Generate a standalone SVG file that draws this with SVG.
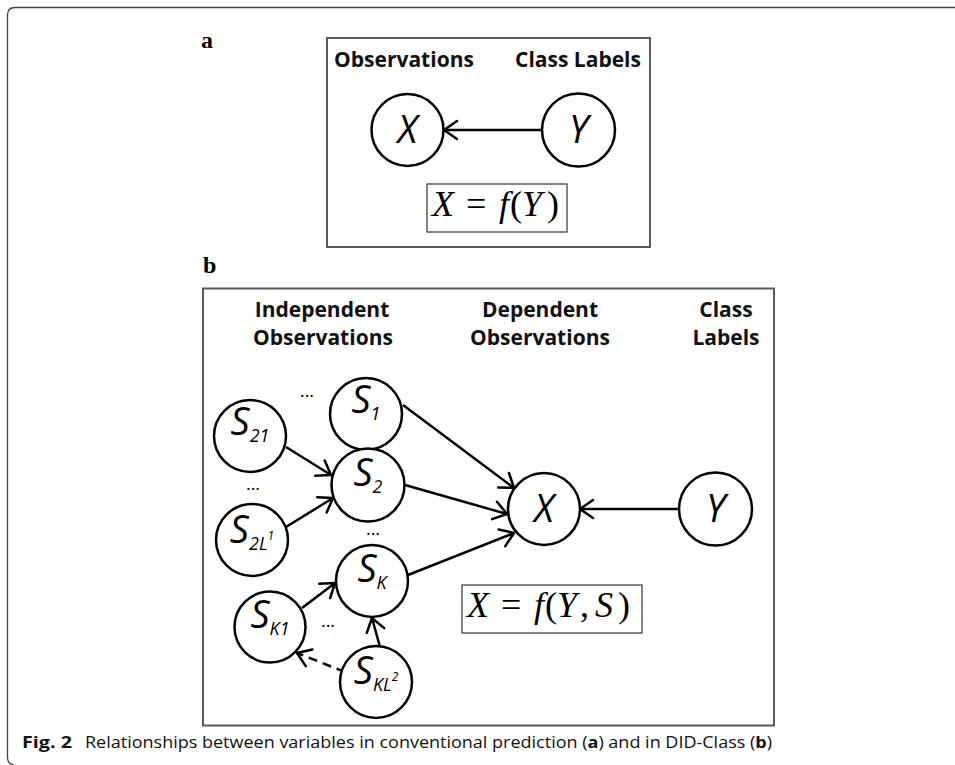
<svg xmlns="http://www.w3.org/2000/svg" width="955" height="765" viewBox="0 0 955 765">
<defs>
<style>
.frame{fill:none;stroke:#444;stroke-width:1.3}
.panel{fill:none;stroke:#5a5a5a;stroke-width:2}
.fbox{fill:none;stroke:#333;stroke-width:1.2}
.node{fill:#fff;stroke:#000;stroke-width:2.5}
.edge{fill:none;stroke:#000;stroke-width:2.5}
.dash{stroke-dasharray:9 6}
.hdr{font-family:"Open Sans","Noto Sans",sans-serif;font-weight:bold;font-size:21px;fill:#111;text-anchor:middle}
.big{font-family:"Open Sans","Noto Sans",sans-serif;font-style:italic;font-size:38px;fill:#000;text-anchor:middle}
.sub{font-size:18px}
.sup{font-size:12px}
.dots{font-family:"Open Sans","Noto Sans",sans-serif;font-size:18px;fill:#000;text-anchor:middle}
.lab{font-family:"Liberation Serif","Times New Roman",serif;font-weight:bold;font-size:24px;fill:#000}
.math{font-family:"Liberation Serif","Times New Roman",serif;font-size:36px;fill:#000}
.it{font-style:italic}
.cap{font-family:"Liberation Sans Narrow","Open Sans","Noto Sans",sans-serif;font-size:16px;fill:#111}
</style>
<marker id="ah" markerUnits="userSpaceOnUse" markerWidth="22" markerHeight="26" viewBox="0 0 22 26" refX="18" refY="13" orient="auto">
<path d="M5,4 L18,13 L5,22" fill="none" stroke="#000" stroke-width="2.5" stroke-linecap="round" stroke-linejoin="round"/>
</marker>
</defs>
<rect width="955" height="765" fill="#fff"/>
<path class="frame" d="M955,7.5 H15 Q7.5,7.5 7.5,15 V757 Q7.5,764 14,765"/>

<g id="panel-a">
<text class="lab" x="201" y="48">a</text>
<rect class="panel" x="327" y="38" width="323" height="209"/>
<text class="hdr" x="404" y="67">Observations</text>
<text class="hdr" x="578" y="67">Class Labels</text>
</g>

<g id="connectors">
<line class="edge" x1="542" y1="130" x2="444" y2="130" marker-end="url(#ah)"/>
<line class="edge" x1="403" y1="405" x2="514" y2="488" marker-end="url(#ah)"/>
<line class="edge" x1="405" y1="485" x2="507" y2="514" marker-end="url(#ah)"/>
<line class="edge" x1="408" y1="575" x2="514" y2="533" marker-end="url(#ah)"/>
<line class="edge" x1="679" y1="509" x2="580" y2="509" marker-end="url(#ah)"/>
<line class="edge" x1="286" y1="447" x2="331" y2="475" marker-end="url(#ah)"/>
<line class="edge" x1="286" y1="527" x2="333" y2="498" marker-end="url(#ah)"/>
<line class="edge" x1="302" y1="608" x2="335" y2="583" marker-end="url(#ah)"/>
<line class="edge" x1="380" y1="647" x2="372" y2="618" marker-end="url(#ah)"/>
<line class="edge dash" x1="345" y1="672" x2="297" y2="653" marker-end="url(#ah)"/>
</g>

<g id="a-X"><circle class="node" cx="407.5" cy="130" r="36"/><text class="big" x="407.5" y="143">X</text></g>
<g id="a-Y"><circle class="node" cx="578.5" cy="130" r="36.5"/><text class="big" x="578.5" y="143">Y</text></g>
<g id="a-formula">
<rect class="fbox" x="427" y="184" width="140" height="48"/>
<text class="math" y="216"><tspan class="it" x="432">X</tspan><tspan x="466">=</tspan><tspan class="it" x="499">f</tspan><tspan x="510">(</tspan><tspan class="it" x="522">Y</tspan><tspan x="547">)</tspan></text>
</g>

<g id="panel-b">
<text class="lab" x="203" y="273">b</text>
<rect class="panel" x="203" y="288.5" width="571" height="437"/>
<text class="hdr" x="322" y="317">Independent</text>
<text class="hdr" x="323" y="345">Observations</text>
<text class="hdr" x="540" y="317">Dependent</text>
<text class="hdr" x="540" y="345">Observations</text>
<text class="hdr" x="726" y="317">Class</text>
<text class="hdr" x="726" y="345">Labels</text>
</g>

<g id="S1"><circle class="node" cx="366" cy="414" r="36"/><text class="big" x="366" y="413">S<tspan class="sub" dy="7">1</tspan></text></g>
<g id="S21"><circle class="node" cx="250" cy="436" r="36"/><text class="big" x="250" y="435">S<tspan class="sub" dy="7">21</tspan></text></g>
<g id="S2"><circle class="node" cx="368" cy="485" r="36.5"/><text class="big" x="368" y="486">S<tspan class="sub" dy="7">2</tspan></text></g>
<g id="S2L1"><circle class="node" cx="252" cy="540" r="36"/><text class="big" x="252" y="543">S<tspan class="sub" dy="7">2L</tspan><tspan class="sup" dy="-10">1</tspan></text></g>
<g id="SK"><circle class="node" cx="372" cy="581" r="36"/><text class="big" x="372" y="582">S<tspan class="sub" dy="7">K</tspan></text></g>
<g id="SK1"><circle class="node" cx="270" cy="627" r="35.5"/><text class="big" x="270" y="628">S<tspan class="sub" dy="7">K1</tspan></text></g>
<g id="SKL2"><circle class="node" cx="376" cy="682" r="36"/><text class="big" x="376" y="684">S<tspan class="sub" dy="7">KL</tspan><tspan class="sup" dy="-10">2</tspan></text></g>
<g id="b-X"><circle class="node" cx="544" cy="509" r="36"/><text class="big" x="544" y="522">X</text></g>
<g id="b-Y"><circle class="node" cx="715.5" cy="509" r="36.5"/><text class="big" x="715.5" y="522">Y</text></g>

<g id="dots">
<text class="dots" x="307" y="397">...</text>
<text class="dots" x="253" y="490">...</text>
<text class="dots" x="373" y="535">...</text>
<text class="dots" x="328" y="627">...</text>
</g>

<g id="b-formula">
<rect class="fbox" x="462" y="585" width="180" height="48"/>
<text class="math" y="617"><tspan class="it" x="467">X</tspan><tspan x="501">=</tspan><tspan class="it" x="534">f</tspan><tspan x="545">(</tspan><tspan class="it" x="557">Y</tspan><tspan x="580">,</tspan><tspan class="it" x="595">S</tspan><tspan x="618">)</tspan></text>
</g>

<g id="caption">
<text class="cap" x="22" y="748" font-weight="bold" textLength="50" lengthAdjust="spacingAndGlyphs">Fig. 2</text>
<text class="cap" x="85" y="748" textLength="687" lengthAdjust="spacingAndGlyphs">Relationships between variables in conventional prediction (<tspan font-weight="bold">a</tspan>) and in DID-Class (<tspan font-weight="bold">b</tspan>)</text>
</g>
</svg>
